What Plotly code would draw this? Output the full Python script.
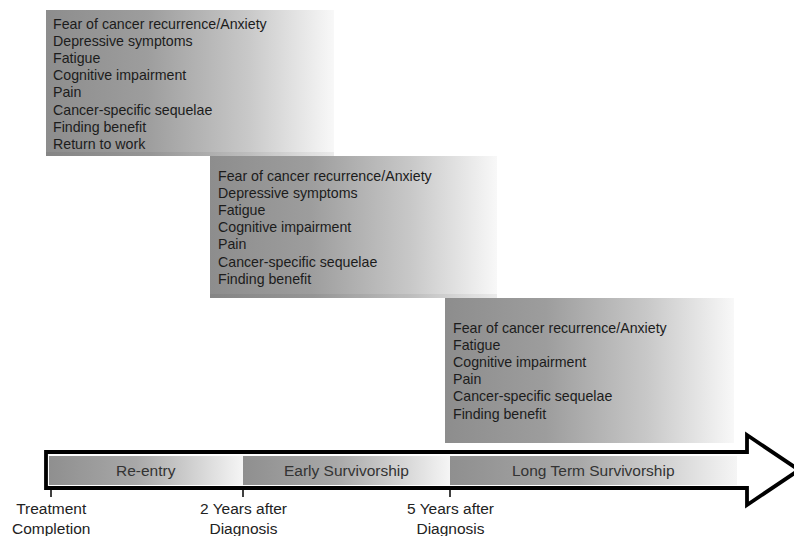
import plotly.graph_objects as go

# ---- content ----
box1_items = ["Fear of cancer recurrence/Anxiety", "Depressive symptoms", "Fatigue",
              "Cognitive impairment", "Pain", "Cancer-specific sequelae",
              "Finding benefit", "Return to work"]
box2_items = ["Fear of cancer recurrence/Anxiety", "Depressive symptoms", "Fatigue",
              "Cognitive impairment", "Pain", "Cancer-specific sequelae",
              "Finding benefit"]
box3_items = ["Fear of cancer recurrence/Anxiety", "Fatigue", "Cognitive impairment",
              "Pain", "Cancer-specific sequelae", "Finding benefit"]
phases = ["Re-entry", "Early Survivorship", "Long Term Survivorship"]
milestones = ["Treatment<br>Completion", "2 Years after<br>Diagnosis", "5 Years after<br>Diagnosis"]

# ---- layout geometry (pixel coordinates) ----
W, H = 794, 536
boxes = [
    dict(items=box1_items, x0=46, x1=334, y0=10, y1=156, tx=51, ty=23.5),
    dict(items=box2_items, x0=210, x1=497, y0=156, y1=298, tx=216, ty=175.5),
    dict(items=box3_items, x0=445, x1=734, y0=298, y1=443, tx=451, ty=327.5),
]
line_step = 17.2
seg_edges = [49, 243, 450, 737]
milestone_x = [51, 243, 450]
shaft_top, shaft_bot = 452, 488
head_x, head_top, head_bot, tip_x = 747, 435, 505, 799

box_scale = [[0, "#8d8d8d"], [0.35, "#9d9d9d"], [0.7, "#c8c8c8"], [1, "#f8f8f8"]]
seg_scale = [[0, "#8f8f8f"], [0.45, "#a8a8a8"], [1, "#f5f5f5"]]

FONT = "Liberation Sans, Arial, sans-serif"

fig = go.Figure()
annotations = []
shapes = []

# arrow outline (white fill, drawn below traces)
arrow_path = (f"M {46} {shaft_top} L {head_x} {shaft_top} L {head_x} {head_top} "
              f"L {tip_x} {(head_top + head_bot) / 2} L {head_x} {head_bot} "
              f"L {head_x} {shaft_bot} L {46} {shaft_bot} Z")
shapes.append(dict(type="path", path=arrow_path, xref="x", yref="y",
                   fillcolor="white", line=dict(color="black", width=3.8), layer="below"))


def grad_rect(x0, x1, y0, y1, scale):
    fig.add_trace(go.Scatter(
        x=[x0, x1, x1, x0, x0], y=[y0, y0, y1, y1, y0],
        mode="lines", line=dict(width=0), fill="toself",
        fillgradient=dict(type="horizontal", colorscale=scale, start=x0, stop=x1),
        hoverinfo="skip", showlegend=False))


# gradient boxes with lists
for b in boxes:
    grad_rect(b["x0"], b["x1"], b["y0"], b["y1"], box_scale)
    for i, t in enumerate(b["items"]):
        annotations.append(dict(x=b["tx"], y=b["ty"] + i * line_step, text=t,
                                xanchor="left", yanchor="middle", showarrow=False,
                                font=dict(family=FONT, size=14.2, color="#1c1c1c")))

shapes.append(dict(type="rect", xref="x", yref="y", x0=46, x1=334, y0=152, y1=156,
                   fillcolor="rgba(0,0,0,0.05)", line=dict(width=0)))
shapes.append(dict(type="rect", xref="x", yref="y", x0=210, x1=497, y0=294, y1=298,
                   fillcolor="rgba(0,0,0,0.05)", line=dict(width=0)))

# phase segments in the arrow
for i, name in enumerate(phases):
    x0, x1 = seg_edges[i], seg_edges[i + 1]
    grad_rect(x0, x1, 456, 485, seg_scale)
    annotations.append(dict(x=(x0 + x1) / 2, y=470.5, text=name, showarrow=False,
                            xanchor="center", yanchor="middle",
                            font=dict(family=FONT, size=15.5, color="#333333")))

# milestone ticks and labels
for mx, lab in zip(milestone_x, milestones):
    shapes.append(dict(type="line", xref="x", yref="y", x0=mx, x1=mx, y0=489, y1=497,
                       line=dict(color="black", width=1.5)))
    annotations.append(dict(x=mx, y=518, text=lab, showarrow=False,
                            xanchor="center", yanchor="middle",
                            font=dict(family=FONT, size=15.5, color="#222222")))

fig.update_layout(
    width=W, height=H, margin=dict(l=0, r=0, t=0, b=0),
    paper_bgcolor="white", plot_bgcolor="white",
    xaxis=dict(range=[0, W], visible=False, fixedrange=True),
    yaxis=dict(range=[H, 0], visible=False, fixedrange=True),
    shapes=shapes, annotations=annotations, showlegend=False,
)
fig.write_html("out.html", config={"displayModeBar": False},
               post_script="document.body.style.margin='0';document.body.style.overflow='hidden';")
